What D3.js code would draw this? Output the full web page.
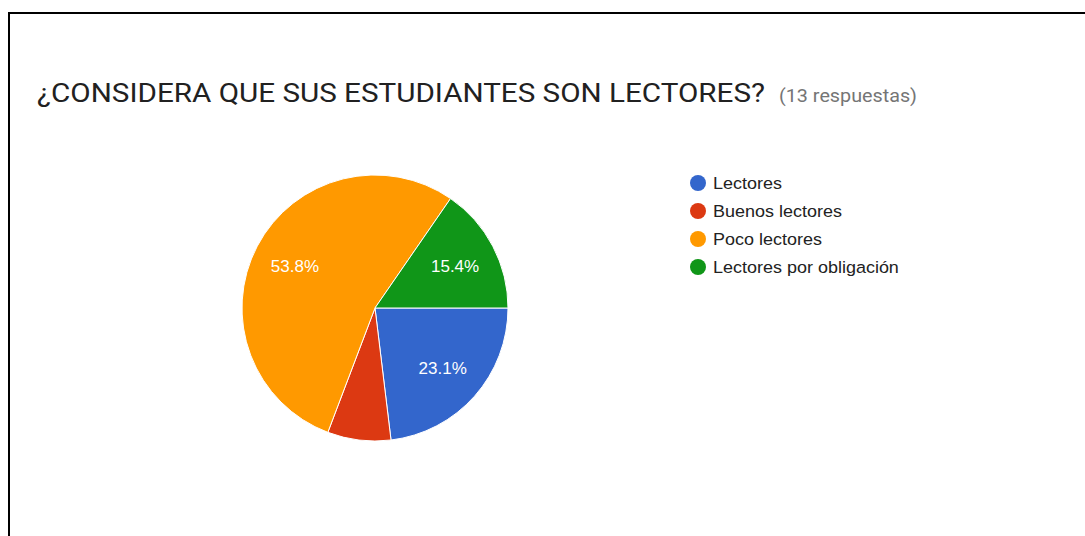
<!DOCTYPE html>
<html><head><meta charset="utf-8">
<script src="https://cdn.jsdelivr.net/npm/d3@7"></script>
<style>html,body{margin:0;padding:0;background:#fff;overflow:hidden}</style>
</head><body>
<script>
const categories = ["Lectores", "Buenos lectores", "Poco lectores", "Lectores por obligación"];
const counts = [3, 1, 7, 2];
const colors = ["#3366cc", "#dc3912", "#ff9900", "#109618"];
const titleText = "¿CONSIDERA QUE SUS ESTUDIANTES SON LECTORES?";
const subtitleText = "(13 respuestas)";

const W = 1085, H = 536;
const svg = d3.select("body").append("svg").attr("width", W).attr("height", H);

// frame
svg.append("line").attr("x1", 8).attr("x2", W).attr("y1", 13).attr("y2", 13).attr("stroke", "#000").attr("stroke-width", 2);
svg.append("line").attr("x1", 9).attr("x2", 9).attr("y1", 12).attr("y2", H).attr("stroke", "#000").attr("stroke-width", 2);

// title
svg.append("text").attr("x", 37).attr("y", 102)
  .attr("font-family", "Roboto").attr("font-size", 25).attr("fill", "#212121")
  .attr("textLength", 728).attr("lengthAdjust", "spacingAndGlyphs").text(titleText);
svg.append("text").attr("x", 779).attr("y", 102)
  .attr("font-family", "Roboto").attr("font-size", 18).attr("fill", "#757575")
  .attr("textLength", 138).attr("lengthAdjust", "spacingAndGlyphs").text(subtitleText);

const total = d3.sum(counts);
const data = categories.map((c, i) => ({cat: c, value: counts[i], color: colors[i]}));

const cx = 375, cy = 308, R = 133;
const pie = d3.pie().value(d => d.value).sort(null).startAngle(Math.PI / 2).endAngle(Math.PI / 2 + 2 * Math.PI);
const arcs = pie(data);
const arc = d3.arc().innerRadius(0).outerRadius(R);
const labelArc = d3.arc().innerRadius(R * 0.68).outerRadius(R * 0.68);

const g = svg.append("g").attr("transform", `translate(${cx},${cy})`);
g.selectAll("path").data(arcs).join("path")
  .attr("d", arc).attr("fill", d => d.data.color)
  .attr("stroke", "#fff").attr("stroke-width", 1);

g.selectAll("text").data(arcs.filter(d => d.data.value / total >= 0.1)).join("text")
  .attr("transform", d => `translate(${labelArc.centroid(d)})`)
  .attr("text-anchor", "middle").attr("dy", "0.36em")
  .attr("font-family", "Liberation Sans, Arial, sans-serif").attr("font-size", 17)
  .attr("fill", "#fff")
  .text(d => (d.data.value / total * 100).toFixed(1) + "%");

// legend
const leg = svg.append("g").attr("transform", "translate(698,183)");
const items = leg.selectAll("g").data(data).join("g")
  .attr("transform", (d, i) => `translate(0,${i * 28})`);
items.append("circle").attr("r", 8).attr("fill", d => d.color);
items.append("text").attr("transform", "translate(15,0) scale(1.09,1)").attr("dy", "0.36em")
  .attr("font-family", "Liberation Sans, Arial, sans-serif").attr("font-size", 16.5)
  .attr("fill", "#222").text(d => d.cat);
</script>
</body></html>
